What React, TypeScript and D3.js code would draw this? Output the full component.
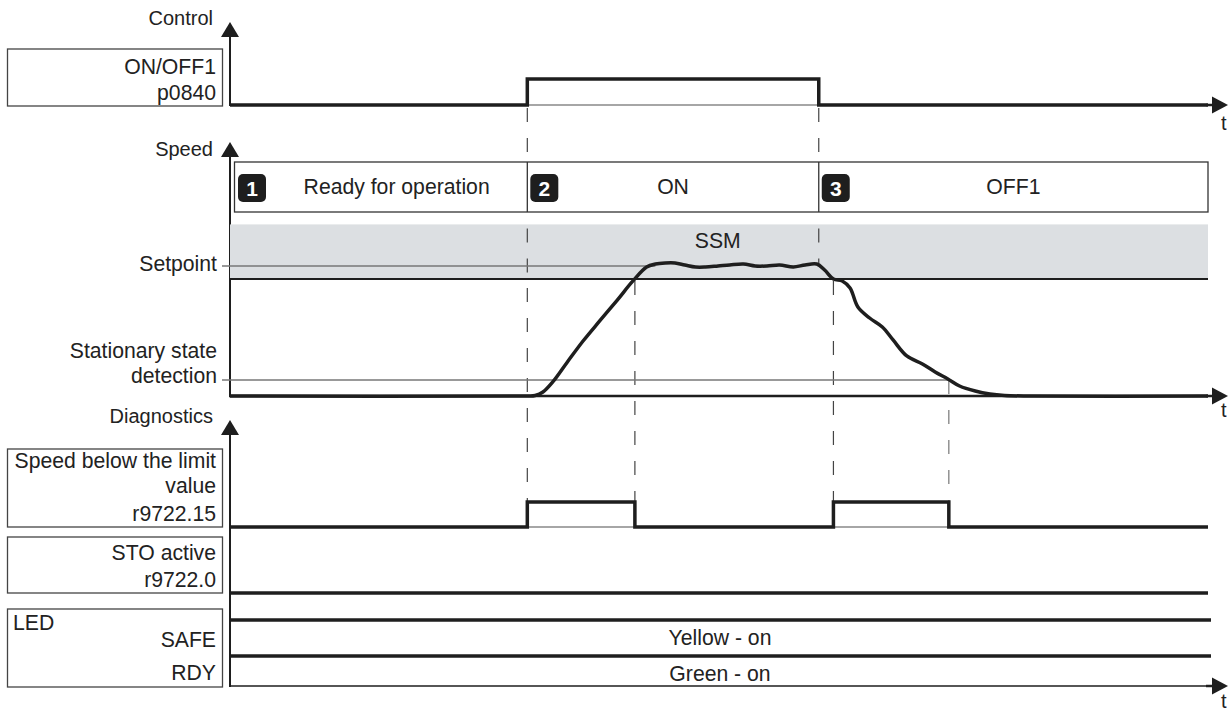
import React from "react";
import * as d3 from "d3";

const W = 1230, H = 711;
const FONT = "'Liberation Sans', Arial, Helvetica, sans-serif";
const INK = "#1e1e1e";
const FS = 21.2; // label text
const FT = 20; // axis titles

// time in arbitrary units, speed in % of setpoint
const speedTimes = [0, 3.04, 3.12, 3.2, 3.3, 3.45, 3.61, 3.78, 3.96, 4.12, 4.26, 4.35, 4.45, 4.55, 4.65, 4.76, 4.86, 4.99, 5.11, 5.25, 5.37, 5.49, 5.62, 5.76, 5.88, 6.0, 6.08, 6.17, 6.26, 6.34, 6.42, 6.54, 6.67, 6.78, 6.92, 7.08, 7.21, 7.34, 7.46, 7.62, 7.77, 7.92, 8.18, 10];
const speedValues = [0, 0, 0.4, 3.1, 10.8, 26.2, 42.3, 57.7, 73.8, 88.5, 99.2, 101.5, 102.3, 102.3, 100.8, 99.2, 99.2, 100, 100.8, 101.5, 100, 100, 100.8, 99.2, 100.8, 101.5, 96.9, 90, 88.5, 83.1, 68.5, 60, 53.1, 43.1, 30.8, 24.6, 18.5, 13.1, 7.7, 3.8, 1.5, 0.4, 0, 0];

const setpoint = 100;
const standstill = 12.3;
const ssmUpper = 132;
const ssmLower = 90;

const controlTimes = [0, 3.04, 6.02, 10];
const controlLevels = [0, 1, 0, 0];

const limitTimes = [0, 3.04, 4.14, 6.17, 7.35, 10];
const limitLevels = [0, 1, 0, 1, 0, 0];

const phaseNames = ["Ready for operation", "ON", "OFF1"];
const phaseStarts = [0, 3.04, 6.02];
const phaseEnds = [3.04, 6.02, 10];

const controlLabel = ["ON/OFF1", "p0840"];
const limitLabel = ["Speed below the limit", "value", "r9722.15"];
const stoLabel = ["STO active", "r9722.0"];
const ledRows = ["SAFE", "RDY"];
const ledStates = ["Yellow - on", "Green - on"];

const x = d3.scaleLinear().domain([0, 10]).range([230, 1208]);
const yControl = d3.scaleLinear().domain([0, 1]).range([105, 79]);
const ySpeed = d3.scaleLinear().domain([0, 100]).range([396, 266]);
const yLimit = d3.scaleLinear().domain([0, 1]).range([527, 502]);

const stepLine = (ys: d3.ScaleLinear<number, number>) =>
  d3.line<[number, number]>().x(d => x(d[0])).y(d => ys(d[1])).curve(d3.curveStepAfter);

const speedLine = d3.line<[number, number]>().x(d => x(d[0])).y(d => ySpeed(d[1])).curve(d3.curveCatmullRom.alpha(0.5));

const AX = x(0);

function UpArrow({ y }: { y: number }) {
  return <path d={`M${AX},${y} L${AX - 9},${y + 15} L${AX + 9},${y + 15} Z`} fill={INK} />;
}
function RightArrow({ y, label }: { y: number; label: number }) {
  const x0 = x(10);
  return (
    <g>
      <line x1={x0 - 2} x2={x0 + 6} y1={y} y2={y} stroke={INK} strokeWidth={2.5} />
      <path d={`M${x0 + 20},${y} L${x0 + 4},${y - 8.5} L${x0 + 4},${y + 8.5} Z`} fill={INK} />
      <text x={x0 + 13} y={label} fontSize={FT}>t</text>
    </g>
  );
}

function LabelBox({ y0, y1, lines, baselines }: { y0: number; y1: number; lines: string[]; baselines: number[] }) {
  return (
    <g>
      <rect x={7.5} y={y0} width={215} height={y1 - y0} fill="none" stroke="#444" strokeWidth={1.3} />
      {lines.map((l, i) => (
        <text key={i} x={216} y={baselines[i]} textAnchor="end" fontSize={FS}>{l}</text>
      ))}
    </g>
  );
}

export default function App() {
  const ctrlData = controlTimes.map((t, i) => [t, controlLevels[i]] as [number, number]);
  const limData = limitTimes.map((t, i) => [t, limitLevels[i]] as [number, number]);
  const spData = speedTimes.map((t, i) => [t, speedValues[i]] as [number, number]);
  const firstAtSetpoint = spData.find(d => d[1] >= setpoint)!;

  const dash = "14 16";
  const tOn = phaseStarts[1], tOff = phaseStarts[2];
  const tSsmIn = limitTimes[2], tSsmOut = limitTimes[3], tStill = limitTimes[4];

  const boxTop = 162, boxBot = 212, boxLeft = 234.5;

  return (
    <svg width={W} height={H} style={{ position: "absolute", left: 0, top: 0, background: "#fff" }}
      fontFamily={FONT} fill="#222">
      {/* ---------- control ---------- */}
      <text x={213} y={25} textAnchor="end" fontSize={FT}>Control</text>
      <UpArrow y={22} />
      <line x1={AX} x2={AX} y1={36} y2={106} stroke={INK} strokeWidth={2} />
      <LabelBox y0={49} y1={106} lines={controlLabel} baselines={[74, 100]} />
      <line x1={x(tOn)} x2={x(tOff)} y1={yControl(0)} y2={yControl(0)} stroke="#888" strokeWidth={1.5} />
      <path d={stepLine(yControl)(ctrlData)!} fill="none" stroke={INK} strokeWidth={3.5} />
      <RightArrow y={yControl(0)} label={130} />

      {/* ---------- dashed event markers ---------- */}
      <g stroke="#444" strokeWidth={1.2} strokeDasharray={dash} fill="none">
        <line x1={x(tOn)} x2={x(tOn)} y1={108} y2={yLimit(1)} />
        <line x1={x(tOff)} x2={x(tOff)} y1={108} y2={ySpeed(101.5)} />
        <line x1={x(tSsmIn)} x2={x(tSsmIn)} y1={ySpeed(ssmLower) + 2} y2={yLimit(1)} />
        <line x1={x(tSsmOut)} x2={x(tSsmOut)} y1={ySpeed(ssmLower) + 2} y2={yLimit(1)} />
        <line x1={x(tStill)} x2={x(tStill)} y1={ySpeed(standstill)} y2={yLimit(1)} stroke="#777" />
      </g>

      {/* ---------- speed ---------- */}
      <text x={213} y={156} textAnchor="end" fontSize={FT}>Speed</text>
      <UpArrow y={142} />
      <line x1={AX} x2={AX} y1={156} y2={397} stroke={INK} strokeWidth={2} />

      <rect x={boxLeft} y={boxTop} width={x(10) - boxLeft} height={boxBot - boxTop} fill="#fff" stroke="#333" strokeWidth={1.3} />
      {phaseNames.map((name, i) => {
        const xs = i === 0 ? boxLeft : x(phaseStarts[i]);
        const badgeX = xs + (i === 0 ? 3.5 : 3);
        const cx = i === 0 ? (badgeX + 28 + x(phaseEnds[i])) / 2 : (xs + x(phaseEnds[i])) / 2;
        return (
          <g key={name}>
            {i > 0 && <line x1={xs} x2={xs} y1={boxTop} y2={boxBot} stroke="#333" strokeWidth={1.3} />}
            <rect x={badgeX} y={174} width={28} height={28} rx={5} fill={INK} />
            <text x={badgeX + 14} y={195.5} textAnchor="middle" fontSize={21} fontWeight="bold" fill="#fff">{i + 1}</text>
            <text x={cx} y={194} textAnchor="middle" fontSize={FS}>{name}</text>
          </g>
        );
      })}

      <rect x={AX} y={ySpeed(ssmUpper)} width={x(10) - AX} height={ySpeed(ssmLower) - ySpeed(ssmUpper)} fill="#dcdfe2" />
      <line x1={AX} x2={x(10)} y1={ySpeed(ssmLower)} y2={ySpeed(ssmLower)} stroke={INK} strokeWidth={2} />
      <text x={(x(tSsmIn) + x(tOff)) / 2 - 9} y={248} textAnchor="middle" fontSize={FS}>SSM</text>

      {/* re-draw dashed marker through the band */}
      <g stroke="#444" strokeWidth={1.2} strokeDasharray={dash}>
        <line x1={x(tOn)} x2={x(tOn)} y1={ySpeed(ssmUpper) + 4} y2={ySpeed(ssmLower)} />
        <line x1={x(tOff)} x2={x(tOff)} y1={ySpeed(ssmUpper) + 4} y2={ySpeed(101.5)} />
      </g>

      <text x={217} y={271} textAnchor="end" fontSize={FS}>Setpoint</text>
      <line x1={222} x2={x(firstAtSetpoint[0])} y1={ySpeed(setpoint)} y2={ySpeed(setpoint)} stroke="#777" strokeWidth={1.5} />
      <text x={217} y={358} textAnchor="end" fontSize={FS}>Stationary state</text>
      <text x={217} y={383} textAnchor="end" fontSize={FS}>detection</text>
      <line x1={222} x2={x(tStill)} y1={ySpeed(standstill)} y2={ySpeed(standstill)} stroke="#777" strokeWidth={1.5} />

      <line x1={AX - 1} x2={x(10)} y1={ySpeed(0)} y2={ySpeed(0)} stroke={INK} strokeWidth={2.5} />
      <path d={speedLine(spData)!} fill="none" stroke={INK} strokeWidth={3.5} strokeLinejoin="round" />
      <RightArrow y={ySpeed(0)} label={417} />

      {/* ---------- diagnostics ---------- */}
      <text x={213} y={423} textAnchor="end" fontSize={FT}>Diagnostics</text>
      <UpArrow y={420} />
      <line x1={AX} x2={AX} y1={434} y2={687} stroke={INK} strokeWidth={2} />

      <LabelBox y0={449} y1={527} lines={limitLabel} baselines={[468, 493, 521]} />
      {limData.slice(0, -1).filter(d => d[1] === 1).map((d, i) => {
        const j = limitTimes.indexOf(d[0]);
        return <line key={i} x1={x(d[0])} x2={x(limitTimes[j + 1])} y1={yLimit(0)} y2={yLimit(0)} stroke="#888" strokeWidth={1.5} />;
      })}
      <path d={stepLine(yLimit)(limData)!} fill="none" stroke={INK} strokeWidth={3.5} />

      <LabelBox y0={537} y1={593} lines={stoLabel} baselines={[560, 587]} />
      <line x1={AX} x2={x(10)} y1={593} y2={593} stroke={INK} strokeWidth={3.5} />

      <rect x={7.5} y={609} width={215} height={78} fill="none" stroke="#444" strokeWidth={1.3} />
      <text x={13} y={630} fontSize={FS}>LED</text>
      <text x={216} y={647} textAnchor="end" fontSize={FS}>{ledRows[0]}</text>
      <text x={216} y={680} textAnchor="end" fontSize={FS}>{ledRows[1]}</text>
      <line x1={AX} x2={x(10) + 3} y1={620} y2={620} stroke={INK} strokeWidth={3.5} />
      <line x1={AX} x2={x(10) + 3} y1={656} y2={656} stroke={INK} strokeWidth={3.5} />
      <text x={720} y={645} textAnchor="middle" fontSize={FS}>{ledStates[0]}</text>
      <text x={720} y={681} textAnchor="middle" fontSize={FS}>{ledStates[1]}</text>
      <line x1={AX - 1} x2={x(10)} y1={686} y2={686} stroke={INK} strokeWidth={1.5} />
      <RightArrow y={686} label={708} />
    </svg>
  );
}
